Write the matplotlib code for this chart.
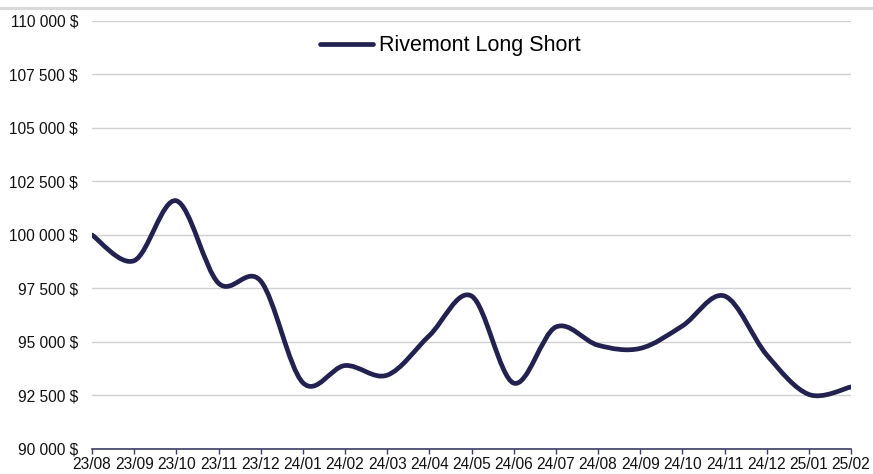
import matplotlib
matplotlib.use("Agg")
import matplotlib.pyplot as plt
from matplotlib.path import Path
from matplotlib.patches import PathPatch
from matplotlib.lines import Line2D
from matplotlib.ticker import FuncFormatter
import numpy as np

plt.rcParams['font.family'] = ['Liberation Sans', 'DejaVu Sans']

months = ["23/08", "23/09", "23/10", "23/11", "23/12", "24/01", "24/02", "24/03",
          "24/04", "24/05", "24/06", "24/07", "24/08", "24/09", "24/10", "24/11",
          "24/12", "25/01", "25/02"]
values = [100000, 98800, 101600, 97750, 97850, 93100, 93900, 93450,
          95300, 97150, 93080, 95700, 94850, 94700, 95750, 97150,
          94400, 92550, 92900]
series_name = "Rivemont Long Short"

W, H = 873, 474
fig = plt.figure(figsize=(W / 100, H / 100), dpi=100)
ax = fig.add_axes([92 / W, 1 - 449 / H, (851 - 92) / W, (449 - 21) / H])

line_color = "#23214f"
x = np.arange(len(values))
y = np.array(values, dtype=float)

# Smoothed line (Excel-style cubic Bezier through the points)
verts = [(x[0], y[0])]
codes = [Path.MOVETO]
n = len(x)
for i in range(n - 1):
    p0 = np.array([x[max(i - 1, 0)], y[max(i - 1, 0)]])
    p1 = np.array([x[i], y[i]])
    p2 = np.array([x[i + 1], y[i + 1]])
    p3 = np.array([x[min(i + 2, n - 1)], y[min(i + 2, n - 1)]])
    c1 = p1 + (p2 - p0) / 6.0
    c2 = p2 - (p3 - p1) / 6.0
    verts += [tuple(c1), tuple(c2), tuple(p2)]
    codes += [Path.CURVE4, Path.CURVE4, Path.CURVE4]
patch = PathPatch(Path(verts, codes), facecolor="none", edgecolor=line_color,
                  lw=3.4, capstyle="round", joinstyle="round", zorder=3)
ax.add_patch(patch)

ax.set_xlim(0, n - 1)
ax.set_ylim(90000, 110000)
ax.set_yticks(np.arange(90000, 110001, 2500))
ax.yaxis.set_major_formatter(FuncFormatter(lambda v, p: f"{int(v):,}".replace(",", " ") + " $"))
ax.set_xticks(x)
ax.set_xticklabels(months)

ax.grid(axis="y", color="#d0d0d0", lw=1.0, zorder=0)
ax.set_axisbelow(True)
for s in ["top", "right", "left"]:
    ax.spines[s].set_visible(False)
ax.spines["bottom"].set_color("#3c3c64")
ax.spines["bottom"].set_linewidth(1.2)
ax.tick_params(axis="y", length=0, pad=10, labelsize=11.2, labelcolor="#111111")
ax.tick_params(axis="x", length=3.5, width=1.0, color="#3c3c64", direction="out",
               pad=2.5, labelsize=11.2, labelcolor="#111111")

handle = Line2D([0], [0], color=line_color, lw=3.4, solid_capstyle="round")
fig.legend([handle], [series_name], loc="center",
           bbox_to_anchor=(450 / W, 1 - 46 / H), frameon=False,
           fontsize=15.5, handlelength=2.5, handletextpad=0.25)

fig.add_artist(Line2D([0, 1], [1 - 8 / H, 1 - 8 / H], transform=fig.transFigure,
                      color="#d9d9d9", lw=2.2))

fig.savefig("out.png", dpi=100)
